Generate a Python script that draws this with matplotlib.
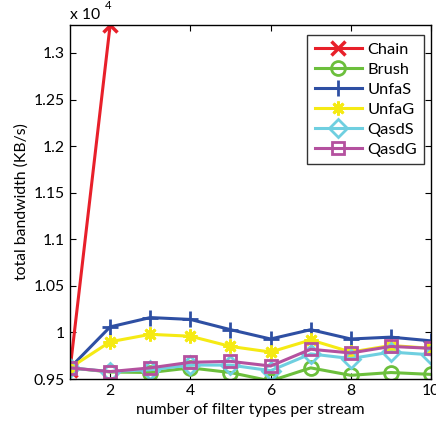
import matplotlib
matplotlib.use("Agg")
import matplotlib.pyplot as plt
from matplotlib.ticker import FixedLocator

plt.rcParams['font.family'] = ['Lato', 'DejaVu Sans']

x = [1, 2, 3, 4, 5, 6, 7, 8, 9, 10]
chain_x = [1, 2]
chain = [9600, 13300]
brush = [9620, 9576, 9570, 9620, 9570, 9480, 9620, 9540, 9570, 9550]
unfas = [9620, 10060, 10160, 10140, 10030, 9930, 10030, 9930, 9950, 9910]
unfag = [9620, 9900, 9980, 9960, 9850, 9790, 9920, 9790, 9860, 9830]
qasds = [9620, 9580, 9600, 9650, 9650, 9590, 9770, 9720, 9790, 9760]
qasdg = [9620, 9580, 9620, 9680, 9690, 9640, 9820, 9780, 9850, 9830]
yticks = [9500, 10000, 10500, 11000, 11500, 12000, 12500, 13000]
ytick_labels = ['0.95', '1', '1.05', '1.1', '1.15', '1.2', '1.25', '1.3']
xticks = [2, 4, 6, 8, 10]

fig = plt.figure(figsize=(4.36, 4.24), dpi=100)
ax = fig.add_axes([0.1606, 0.106, 0.828, 0.835])

lw = 2.2
ms = 10
ax.plot(chain_x, chain, color='#e8202a', lw=lw, marker='x', ms=ms, mew=2.5, label='Chain')
ax.plot(x, brush, color='#6cbf3c', lw=lw, marker='o', ms=ms, mfc='none', mew=2, label='Brush')
ax.plot(x, unfas, color='#2e4fa3', lw=lw, marker='+', ms=ms + 2, mew=2, label='UnfaS')
ax.plot(x, unfag, color='#f5ea14', lw=lw, marker=(8, 2, 0), ms=ms, mew=2, label='UnfaG')
ax.plot(x, qasds, color='#6fcfe0', lw=lw, marker='D', ms=ms - 1, mfc='none', mew=2, label='QasdS')
ax.plot(x, qasdg, color='#b4519f', lw=lw, marker='s', ms=ms - 1, mfc='none', mew=2, label='QasdG')

ax.set_xlim(1, 10)
ax.set_ylim(9500, 13300)
ax.yaxis.set_major_locator(FixedLocator(yticks))
ax.set_yticklabels(ytick_labels)
ax.xaxis.set_major_locator(FixedLocator(xticks))
ax.tick_params(direction='in', top=True, right=True, labelsize=11.3, length=4, width=0.8)
for s in ax.spines.values():
    s.set_linewidth(1.0)

ax.set_xlabel('number of filter types per stream', fontsize=11.3, labelpad=4)
ax.set_ylabel('total bandwidth (KB/s)', fontsize=11.3, labelpad=4)
ax.text(0.0, 1.008, 'x 10', transform=ax.transAxes, fontsize=11.3, ha='left', va='bottom')
ax.text(0.097, 1.04, '4', transform=ax.transAxes, fontsize=8, ha='left', va='bottom')

leg = ax.legend(loc='upper right', bbox_to_anchor=(0.99, 0.98), fontsize=11.8,
                frameon=True, fancybox=False, edgecolor='black', handlelength=2.9,
                borderpad=0.45, labelspacing=0.33, handletextpad=0.3, borderaxespad=0.2)
leg.get_frame().set_linewidth(1.0)

fig.savefig('out.png', dpi=100)
